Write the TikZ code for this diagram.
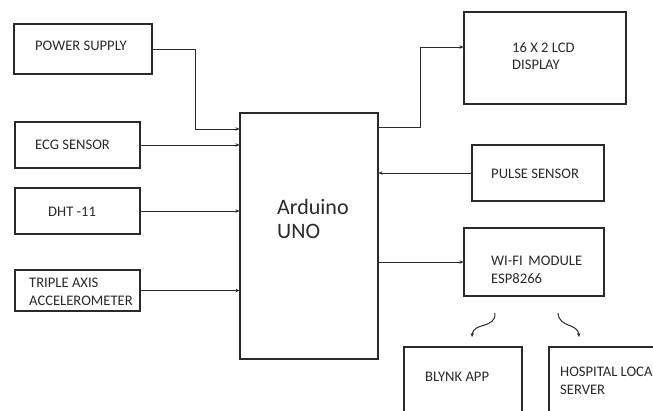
\documentclass[tikz,border=0pt]{standalone}
\usepackage{fontspec}
\setmainfont{Carlito}
\usetikzlibrary{arrows.meta}
\definecolor{ink}{HTML}{2A2A2A}
\tikzset{
  box/.style={draw=ink, line width=1.1pt, rectangle, inner sep=0pt},
  lbl/.style={text=ink, font=\fontsize{14.6}{17.5}\selectfont, inner sep=0pt, align=left},
  arr/.style={draw=ink, line width=1pt, -{Stealth[length=4pt,width=3.5pt]}},
}
\begin{document}
\begin{tikzpicture}[x=1pt,y=-1pt]
\useasboundingbox (0,0) rectangle (653,410);
\fill[white] (0,0) rectangle (653,410);
\clip (0,0) rectangle (653,410);
% boxes
\node[box, minimum width=138pt, minimum height=50pt] (ps) at (83,49) {};
\node[box, minimum width=125pt, minimum height=46pt] (ecg) at (77.5,145) {};
\node[box, minimum width=125pt, minimum height=46pt] (dht) at (77.5,211) {};
\node[box, minimum width=125pt, minimum height=41pt] (tri) at (77.5,290.5) {};
\node[box, minimum width=138pt, minimum height=246pt] (ard) at (309,236) {};
\node[box, minimum width=162pt, minimum height=92pt] (lcd) at (545,58) {};
\node[box, minimum width=132pt, minimum height=56pt] (pulse) at (538,173) {};
\node[box, minimum width=140pt, minimum height=68pt] (wifi) at (534,262) {};
\node[box, minimum width=118pt, minimum height=80pt] (blynk) at (463,387) {};
\node[box, minimum width=121pt, minimum height=80pt] (hosp) at (609.5,387) {};
% labels
\node[lbl, anchor=west] (tps) at (35,46) {POWER SUPPLY};
\node[lbl, anchor=west] (tecg) at (35,145) {ECG SENSOR};
\node[lbl, anchor=west] (tdht) at (48,212) {DHT -11};
\node[lbl, anchor=west] (ttri) at (29,292) {TRIPLE AXIS\\ACCELEROMETER};
\node[text=ink, font=\fontsize{22}{24}\selectfont, inner sep=0pt, align=left, anchor=west] (tard) at (277,219) {Arduino\\UNO};
\node[lbl, anchor=west] (tlcd) at (512,56) {16 X 2 LCD\\DISPLAY};
\node[lbl, anchor=west] (tpulse) at (491,174) {PULSE SENSOR};
\node[lbl, anchor=west] (twifi) at (491,270) {WI-FI\, MODULE\\ESP8266};
\node[lbl, anchor=west] (tblynk) at (425,377) {BLYNK APP};
\node[lbl, anchor=west] (thosp) at (560,381) {HOSPITAL LOCAL\\SERVER};
% connectors
\coordinate (k1) at (195,129);
\draw[arr] (ps.east) -| (k1) -- (k1 -| ard.west);
\draw[arr] (ecg.east) -- (ecg.east -| ard.west);
\draw[arr] (dht.east) -- (dht.east -| ard.west);
\draw[arr] (tri.east) -- (tri.east -| ard.west);
\coordinate (k2) at (420,127);
\coordinate (k3) at (420,47);
\draw[arr] (k2 -| ard.east) -- (k2) -- (k3) -- (k3 -| lcd.west);
\draw[arr] (pulse.west) -- (pulse.west -| ard.east);
\draw[arr] (wifi.west -| ard.east) -- (wifi.west);
\coordinate (s1) at (495,313);
\coordinate (s2) at (472,337);
\coordinate (s3) at (558,313);
\coordinate (s4) at (579,337);
\draw[arr] (s1) .. controls (496,329) and (473,322) .. (s2);
\draw[arr] (s3) .. controls (559,328) and (578,323) .. (s4);
\end{tikzpicture}
\end{document}
